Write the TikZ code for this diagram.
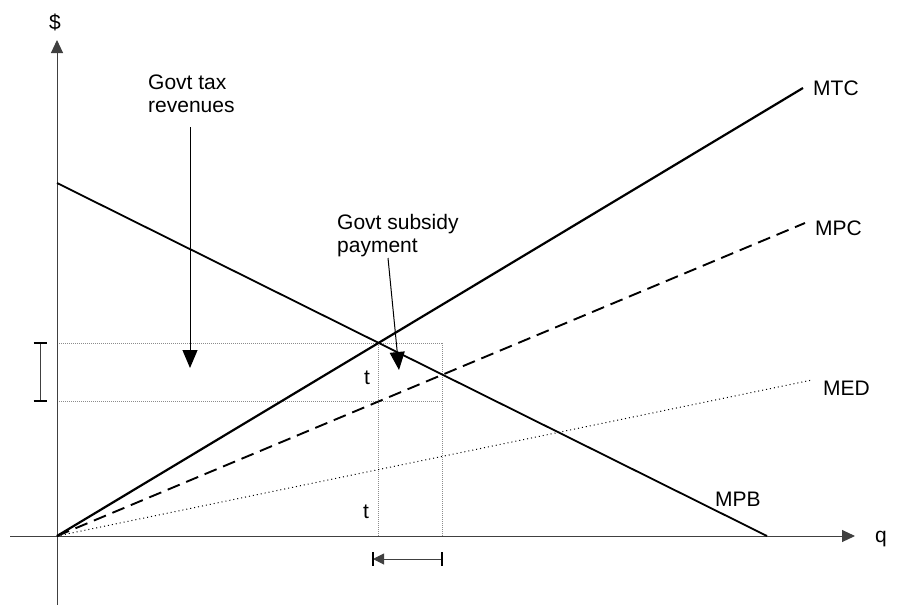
\documentclass[tikz,border=0pt]{standalone}
\usepackage{fontspec}
\setmainfont{Liberation Sans}
\usetikzlibrary{arrows.meta}
\tikzset{
  axisline/.style={line width=1pt, draw=black!75, -{Triangle[length=13pt,width=12pt]}},
  mtcline/.style={line width=2.2pt},
  mpbline/.style={line width=1.8pt},
  mpcline/.style={line width=1.9pt, dash pattern=on 13pt off 7pt},
  medline/.style={line width=1pt, dash pattern=on 1pt off 3pt},
  gridline/.style={line width=1pt, draw=black!45, dash pattern=on 1pt off 1pt},
  callout/.style={line width=1pt, -{Triangle[length=18pt,width=15pt]}},
  lbl/.style={inner sep=0pt, font=\fontsize{21}{23}\selectfont},
  barline/.style={line width=2.2pt},
}
\begin{document}
\begin{tikzpicture}[x=1pt,y=-1pt]
\useasboundingbox (0,0) rectangle (897,605);
% key points
\coordinate (O) at (57,536);
\coordinate (ytop) at (57,40);
\coordinate (ybot) at (57,605);
\coordinate (xleft) at (10,536);
\coordinate (xright) at (855,536);
\coordinate (mpbs) at (57,183);
\coordinate (mpbe) at (767,536);
\coordinate (mtce) at (803,88);
\coordinate (mpce) at (805,223);
\coordinate (mede) at (812,380);
\coordinate (E1) at (378.6,343);
\coordinate (E2) at (442.6,343);
\coordinate (E3) at (378.6,401);
\coordinate (E4) at (442.6,401);
% grid (dotted)
\draw[gridline] (O |- E1) -- (E2) -- (E2 |- O);
\draw[gridline] (O |- E3) -- (E4);
\draw[gridline] (E1) -- (E1 |- O);
% axes
\draw[axisline] (ybot) -- (ytop);
\draw[axisline] (xleft) -- (xright);
\node[lbl] (dollar) at (55,22) {\$};
\node[lbl] (qlbl) at (881,539) {q};
% curves
\draw[mpbline] (mpbs) -- (mpbe);
\draw[mtcline] (O) -- (mtce);
\draw[mpcline] (O) -- (mpce);
\draw[medline] (O) -- (mede);
\node[lbl, anchor=west] (mtc) at (813,88) {MTC};
\node[lbl, anchor=west] (mpc) at (815,228) {MPC};
\node[lbl, anchor=west] (med) at (823,388) {MED};
\node[lbl, anchor=west] (mpb) at (715,499) {MPB};
\node[lbl] (t1) at (367,378) {t};
\node[lbl] (t2) at (366,512) {t};
% left bracket
\coordinate (bt) at (40,343);
\coordinate (bb) at (40,401);
\draw[line width=1pt, draw=black!75] (bt) -- (bb);
\draw[barline] ([xshift=-6.5pt]bt) -- ([xshift=6.5pt]bt);
\draw[barline] ([xshift=-6.5pt]bb) -- ([xshift=6.5pt]bb);
% bottom arrow
\coordinate (ql) at (373,559);
\coordinate (qr) at (442,559);
\draw[line width=1pt, draw=black!75, -{Triangle[length=11pt,width=11pt]}] (qr) -- (ql);
\draw[barline] ([yshift=7pt]ql) -- ([yshift=-7pt]ql);
\draw[barline] ([yshift=7pt]qr) -- ([yshift=-7pt]qr);
% callouts
\node[lbl, anchor=north west, align=left] (taxlbl) at (148,75) {Govt tax\\revenues};
\coordinate (taxtop) at (190,127);
\coordinate (taxtip) at (190,368);
\draw[callout] (taxtop) -- (taxtip);
\node[lbl, anchor=north west, align=left] (sublbl) at (337,214) {Govt subsidy\\payment};
\coordinate (subtop) at (388,258);
\coordinate (subtip) at (399,370);
\draw[callout] (subtop) -- (subtip);
\end{tikzpicture}
\end{document}
